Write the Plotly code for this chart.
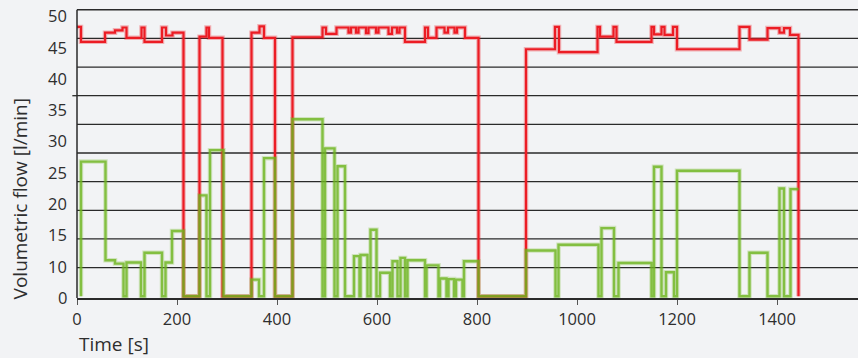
import numpy as np
import plotly.graph_objects as go

# Supply flow (red) – step changes: time [s], flow [l/min]
red_t = [0, 8, 56, 76, 91, 99, 129, 135, 170, 178, 191, 213, 245, 259, 264, 291,
         349, 365, 374, 396, 431, 491, 498, 519, 543, 548, 558, 563, 578, 583,
         598, 603, 623, 630, 640, 645, 656, 696, 702, 719, 735, 742, 755, 760,
         776, 803, 898, 956, 964, 1041, 1046, 1073, 1079, 1149, 1154, 1169,
         1175, 1192, 1200, 1325, 1345, 1381, 1405, 1414, 1426, 1443]
red_v = [47.0, 44.4, 46.0, 46.4, 46.9, 45.1, 46.9, 44.4, 46.9, 45.5, 46.0, 0, 45.3,
         46.9, 45.1, 0, 46.0, 47.1, 45.1, 0, 45.2, 46.9, 45.8, 46.9, 46.0, 46.9,
         46.0, 46.9, 45.9, 46.9, 46.0, 46.9, 45.8, 46.9, 46.0, 46.9, 44.4, 46.9,
         45.1, 46.9, 46.0, 46.9, 46.0, 46.9, 45.1, 0, 43.1, 47.0, 42.6, 47.0, 45.3,
         47.0, 44.4, 47.0, 45.7, 47.0, 45.6, 47.0, 43.1, 47.0, 44.8, 46.8, 46.0,
         46.8, 45.6, 0]

# Consumer flow (green) – step changes: time [s], flow [l/min]
green_t = [8, 8, 57, 76, 93, 99, 128, 135, 170, 177, 190, 213, 245, 259, 266, 293,
           349, 364, 374, 396, 431, 491, 496, 515, 521, 536, 554, 565, 567, 581,
           587, 599, 606, 626, 631, 641, 647, 656, 661, 696, 699, 723, 726, 739,
           743, 754, 758, 771, 774, 803, 898, 957, 963, 1043, 1049, 1074, 1083,
           1149, 1154, 1169, 1178, 1194, 1200, 1325, 1345, 1381, 1405, 1414,
           1427, 1443]
green_v = [0, 23.5, 6.3, 5.7, 0, 5.9, 0, 7.6, 0, 5.9, 11.4, 0, 17.6, 0, 25.5, 0,
           2.9, 0, 24.1, 0, 30.9, 0, 25.8, 0, 22.7, 0, 7.0, 0, 7.2, 0, 11.6, 0,
           4.1, 0, 6.1, 0, 6.7, 0, 6.3, 0, 5.4, 0, 3.1, 0, 3.0, 0, 2.9, 0, 6.1, 0,
           8.0, 0, 9.0, 0, 11.9, 0, 5.8, 0, 22.6, 0, 4.2, 0, 21.9, 0, 7.6, 0,
           18.8, 0, 18.7, 18.7]

x_ticks = [0, 200, 400, 600, 800, 1000, 1200, 1400]
grid_levels = [5, 10, 15, 20, 25, 30, 35, 40, 45, 50]
y_labels = ["0", "10", "15", "20", "25", "30", "35", "40", "45", "50"]

RED = "rgb(236,28,36)"
GREEN = "rgb(110,182,30)"
TEXT = "#2e2e2e"
GRID = "#2a2a2a"
FONT = "Open Sans"
Y_MIN, Y_TOP = -0.3, 50
Y_RANGE = [Y_MIN, 51]

fig = go.Figure()

# soft halo under each step line, then the core line
fig.add_trace(go.Scatter(x=red_t, y=red_v, mode="lines", line_shape="hv",
                         line=dict(color=RED, width=4.5), opacity=0.3,
                         hoverinfo="skip", showlegend=False))
fig.add_trace(go.Scatter(x=red_t, y=red_v, mode="lines", line_shape="hv",
                         line=dict(color=RED, width=2.2), name="Supply",
                         showlegend=False))
fig.add_trace(go.Scatter(x=green_t, y=green_v, mode="lines", line_shape="hv",
                         line=dict(color=GREEN, width=4.5), opacity=0.25,
                         hoverinfo="skip", showlegend=False))
fig.add_trace(go.Scatter(x=green_t, y=green_v, mode="lines", line_shape="hv",
                         line=dict(color=GREEN, width=2.4), opacity=0.78,
                         name="Consumer", showlegend=False))

# horizontal grid lines
shapes = [dict(type="line", xref="paper", yref="y", x0=0, x1=1, y0=g, y1=g,
               line=dict(color=GRID, width=1.3), layer="below")
          for g in grid_levels]
shapes += [
    # vertical axis line, ending at the top grid line
    dict(type="line", xref="paper", yref="y", x0=0, x1=0, y0=Y_MIN, y1=Y_TOP,
         line=dict(color=GRID, width=1.5), layer="above"),
    # the 35 grid line runs a little past the axis
    dict(type="line", xref="paper", yref="y", x0=-0.006, x1=0,
         y0=35, y1=35, line=dict(color=GRID, width=1.3)),
]

# value labels of the vertical axis, spread evenly over its height
label_pos = np.linspace(0, 49.1, len(y_labels))
annotations = [dict(text=lab, xref="paper", yref="y", x=0, y=float(p),
                    xanchor="right", yanchor="middle", xshift=-8, yshift=-1,
                    showarrow=False, font=dict(size=16.5, color=TEXT))
               for lab, p in zip(y_labels, label_pos)]
annotations += [
    dict(text="Time [s]", xref="paper", yref="paper", x=0, y=-0.155,
         xanchor="left", yanchor="middle", showarrow=False,
         font=dict(size=19, color=TEXT)),
    dict(text="Volumetric flow [l/min]", xref="paper", yref="paper",
         x=-0.073, y=-0.01, xanchor="center", yanchor="bottom",
         textangle=-90, showarrow=False, font=dict(size=19, color=TEXT)),
]

fig.update_layout(
    width=858, height=358,
    margin=dict(l=77, r=0, t=4.3, b=60),
    paper_bgcolor="#f2f3f5", plot_bgcolor="#f2f3f5",
    font=dict(family=FONT, size=16.5, color=TEXT),
    xaxis=dict(range=[0, 1562], tickvals=x_ticks, showgrid=False, zeroline=False,
               showline=True, linecolor=GRID, linewidth=1.5,
               ticks="outside", ticklen=5, tickwidth=1.2, tickcolor="#555",
               tickfont=dict(size=16.5, color=TEXT)),
    yaxis=dict(range=Y_RANGE, showticklabels=False, showgrid=False,
               zeroline=False, showline=False, ticks=""),
    shapes=shapes,
    annotations=annotations,
)

fig.write_html("out.html")
